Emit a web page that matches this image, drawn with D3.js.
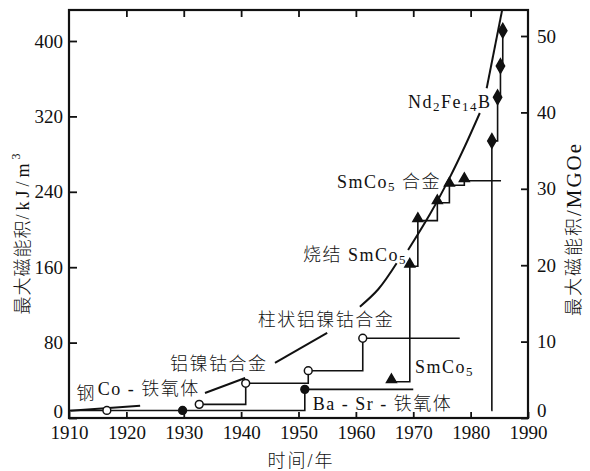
<!DOCTYPE html>
<html>
<head>
<meta charset="utf-8">
<script src="https://cdn.jsdelivr.net/npm/d3@7/dist/d3.min.js"></script>
<style>
  html, body { margin: 0; padding: 0; background: #fff; }
  svg text { fill: #111; }
</style>
</head>
<body>
<svg id="chart" width="590" height="471"></svg>
<script>
// ---- data (year, maximum energy product in kJ/m^3) ----
const yearTicks = [1910, 1920, 1930, 1940, 1950, 1960, 1970, 1980, 1990];
const kjTicks = [0, 80, 160, 240, 320, 400];
const mgoeTicks = [0, 10, 20, 30, 40, 50];

// overall trend curve, drawn in pieces around the annotations
const trendSeg1 = [[1910.2, 7.7], [1922.4, 13.0]];
const trendSeg2 = [[1933.7, 26.5], [1940.7, 42.4]];
const trendSeg3 = [[1945.9, 58.4], [1955.0, 90.2]];
const trendSeg4 = [[1960.7, 118.1], [1963.9, 136.6], [1967.1, 164.2]];
const trendSeg5 = [[1969.1, 178.2], [1972.9, 216.1], [1976.4, 255.6], [1979.0, 288.3], [1981.6, 323.6]];
const trendSeg6 = [[1982.8, 349.8], [1985.5, 433.0]];

// steel
const steelDots = [[1916.6, 8]];
// ferrites (Co ferrite, Ba-Sr ferrite)
const ferriteStep = [[1910, 8], [1951.1, 30.4], [1970.0, 30.4]];
const ferriteDots = [[1929.8, 8], [1951.1, 30.4]];
// alnico
const alnicoStep = [[1932.7, 14.5], [1940.8, 36.8], [1951.7, 50.2], [1961.2, 84.6], [1978.1, 84.6]];
const alnicoDots = [[1932.7, 14.5], [1940.8, 36.8], [1951.7, 50.2], [1961.2, 84.6]];
// SmCo5
const smcoStep = [[1966.2, 38.5], [1969.4, 161], [1970.8, 209.4], [1974.2, 228.4], [1976.3, 247], [1978.9, 251.8], [1985.3, 251.8]];
const smcoDots = [[1966.2, 38.5], [1969.4, 161], [1970.8, 209.4], [1974.2, 228.4], [1976.3, 247], [1978.9, 251.8]];
// Nd2Fe14B
const ndfebStep = [[1983.6, 8], [1983.7, 294], [1984.7, 340.3], [1985.2, 373.5], [1985.6, 411]];
const ndfebDots = [[1983.7, 294], [1984.7, 340.3], [1985.2, 373.5], [1985.6, 411]];

// annotations, anchored in data space (year, kJ/m^3 at text middle)
const annotations = [
  { at: [1911.3, 25.0], parts: [{ t: "钢" }] },
  { at: [1915.0, 30.5], parts: [{ t: "Co - 铁氧体" }] },
  { at: [1927.6, 57.5], parts: [{ t: "铝镍钴合金" }] },
  { at: [1942.9, 104.0], parts: [{ t: "柱状铝镍钴合金" }] },
  { at: [1950.8, 173.0], parts: [{ t: "烧结 SmCo" }, { t: "5", sub: true }] },
  { at: [1956.7, 250.7], parts: [{ t: "SmCo" }, { t: "5", sub: true }, { t: " 合金" }] },
  { at: [1969.1, 335.6], parts: [{ t: "Nd" }, { t: "2", sub: true }, { t: "Fe" }, { t: "14", sub: true }, { t: "B" }] },
  { at: [1970.3, 54.4], parts: [{ t: "SmCo" }, { t: "5", sub: true }] },
  { at: [1952.5, 14.9], parts: [{ t: "Ba - Sr - 铁氧体" }] }
];

// ---- layout ----
const L = 69, R = 528, T = 10, B = 418;
const FONT = "'Liberation Serif', 'Noto Sans CJK SC', serif";

const svg = d3.select("#chart");
const x = d3.scaleLinear().domain([1910, 1990]).range([L, R]);
const y = d3.scaleLinear().domain([0, 400]).range([B, 41]);
const yR = d3.scaleLinear().domain([0, 50]).range([B, 36]);

svg.append("defs").append("clipPath").attr("id", "plot")
  .append("rect").attr("x", L).attr("y", T).attr("width", R - L).attr("height", B - T);

// axes with inward ticks
function styleAxis(g) {
  g.select(".domain").remove();
  g.selectAll(".tick line").attr("stroke", "#111").attr("stroke-width", 1.8);
  g.selectAll(".tick text").style("font-family", FONT).style("font-size", "19px").attr("fill", "#111");
}
svg.append("g").attr("transform", `translate(0,${B})`)
  .call(d3.axisBottom(x).tickValues(yearTicks).tickFormat(d3.format("d")).tickSize(-6).tickPadding(8))
  .call(styleAxis);
svg.append("g").attr("transform", `translate(0,${T})`)
  .call(d3.axisTop(x).tickValues(yearTicks.slice(1, -1)).tickFormat("").tickSize(-7))
  .call(styleAxis);
svg.append("g").attr("transform", `translate(${L},0)`)
  .call(d3.axisLeft(y).tickValues(kjTicks).tickSize(-8).tickPadding(6))
  .call(styleAxis)
  .selectAll(".tick text").filter(d => d === 0).attr("dy", "-0.05em");
svg.append("g").attr("transform", `translate(${R},0)`)
  .call(d3.axisRight(yR).tickValues(mgoeTicks).tickSize(-7).tickPadding(9))
  .call(styleAxis)
  .selectAll(".tick text").filter(d => d === 0).attr("dy", "-0.1em");

// frame
svg.append("rect").attr("x", L).attr("y", T).attr("width", R - L).attr("height", B - T)
  .attr("fill", "none").attr("stroke", "#111").attr("stroke-width", 2.2);

const plot = svg.append("g").attr("clip-path", "url(#plot)");

// trend curve
const trendLine = d3.line().x(d => x(d[0])).y(d => y(d[1])).curve(d3.curveCatmullRom);
[trendSeg1, trendSeg2, trendSeg3, trendSeg4, trendSeg5, trendSeg6].forEach(seg => {
  plot.append("path").attr("d", trendLine(seg))
    .attr("fill", "none").attr("stroke", "#111").attr("stroke-width", 2);
});

// step lines
const stepLine = d3.line().x(d => x(d[0])).y(d => y(d[1])).curve(d3.curveStepAfter);
[ferriteStep, alnicoStep, smcoStep, ndfebStep].forEach(s => {
  plot.append("path").attr("d", stepLine(s))
    .attr("fill", "none").attr("stroke", "#111").attr("stroke-width", 1.6);
});

// markers
function dots(data, type, size, fill, dy) {
  plot.selectAll(null).data(data).enter().append("path")
    .attr("d", d3.symbol().type(type).size(size))
    .attr("transform", d => `translate(${x(d[0])},${y(d[1]) + (dy || 0)})`)
    .attr("fill", fill).attr("stroke", "#111").attr("stroke-width", 1.5);
}
dots(steelDots, d3.symbolCircle, 48, "#fff");
dots(alnicoDots, d3.symbolCircle, 48, "#fff");
dots(ferriteDots, d3.symbolCircle, 48, "#111");
dots(smcoDots, d3.symbolTriangle, 42, "#111", -2);
dots(ndfebDots, d3.symbolDiamond, 60, "#111");

// annotations
annotations.forEach(a => {
  const t = svg.append("text")
    .attr("x", x(a.at[0])).attr("y", y(a.at[1]))
    .attr("dominant-baseline", "central")
    .style("font-family", FONT).style("font-size", "18px").style("font-weight", 300)
    .style("letter-spacing", "1.5px");
  let shifted = false;
  a.parts.forEach(p => {
    const s = t.append("tspan").text(p.t);
    if (p.sub && !shifted) { s.attr("dy", 4).style("font-size", "13px"); shifted = true; }
    else if (p.sub) { s.style("font-size", "13px"); }
    else if (shifted) { s.attr("dy", -4); shifted = false; }
  });
});

// axis titles
svg.append("text")
  .attr("x", 301).attr("y", 461).attr("text-anchor", "middle").attr("dominant-baseline", "central")
  .style("font-family", FONT).style("font-size", "18px").style("font-weight", 300).style("letter-spacing", "2px")
  .text("时间/年");

const leftTitle = svg.append("text")
  .attr("transform", "translate(23,234) rotate(-90)")
  .attr("text-anchor", "middle").attr("dominant-baseline", "central")
  .style("font-family", FONT).style("font-size", "18px").style("font-weight", 300);
leftTitle.append("tspan").text("最大磁能积").style("letter-spacing", "1px");
leftTitle.append("tspan").text("/kJ/m").style("letter-spacing", "4px");
leftTitle.append("tspan").text("3").attr("dy", -7).style("font-size", "12px");

const rightTitle = svg.append("text")
  .attr("transform", "translate(574,229) rotate(-90)")
  .attr("text-anchor", "middle").attr("dominant-baseline", "central")
  .style("font-family", FONT).style("font-size", "18px").style("font-weight", 300);
rightTitle.append("tspan").text("最大磁能积").style("letter-spacing", "2px");
rightTitle.append("tspan").text("/MGOe").style("font-size", "21px").style("letter-spacing", "2px");
</script>
</body>
</html>
